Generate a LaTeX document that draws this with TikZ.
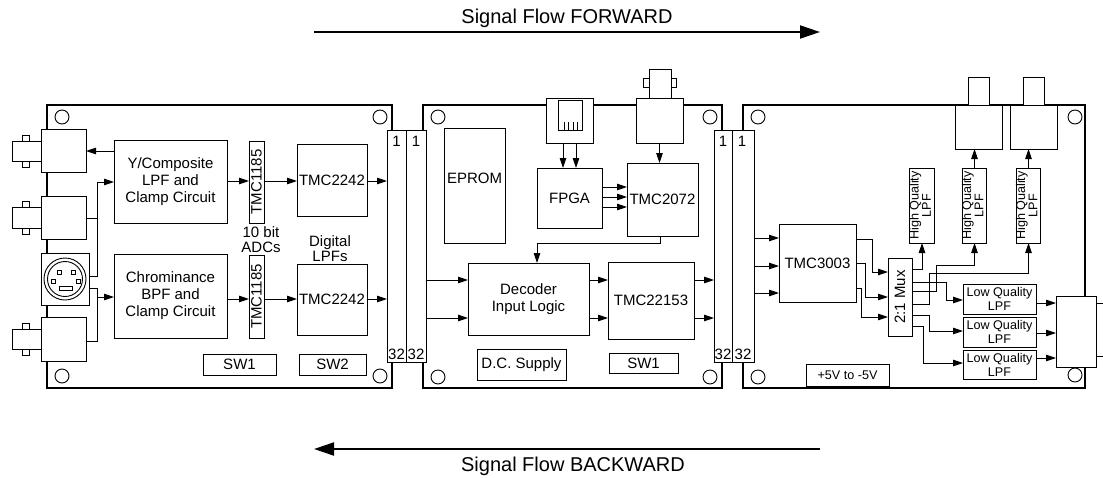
\documentclass[tikz,border=0pt]{standalone}
\usepackage{fontspec}
\setmainfont{Liberation Sans}
\usepackage{graphicx}
\usetikzlibrary{arrows.meta,calc}
\newcommand\lbl{\fontsize{15}{15}\selectfont}
\newcommand\sml{\fontsize{12.6}{13}\selectfont}
\newcommand\ttl{\fontsize{20}{22}\selectfont}
\newcommand\rot[1]{\rotatebox{90}{#1}}
\newcommand\rottwo[2]{\rotatebox{90}{\sml\renewcommand\arraystretch{0.9}\begin{tabular}{@{}c@{}}#1\\#2\end{tabular}}}
\begin{document}
\begin{tikzpicture}[x=1pt,y=-1pt,
  corners/.style args={#1/#2/#3/#4}{minimum width={(#3-#1)*1pt}, minimum height={(#4-#2)*1pt}, at={({(#1+#3)/2},{(#2+#4)/2})}},
  box/.style={draw, line width=0.9pt, fill=white, inner sep=0pt, outer sep=0pt, align=center, font=\lbl},
  sbox/.style={box, font=\sml},
  board/.style={draw, line width=2.4pt, inner sep=0pt, outer sep=0pt},
  hole/.style={draw, line width=0.9pt},
  wire/.style={line width=0.9pt},
  arr/.style={line width=0.9pt, -{Triangle[length=10pt,width=6.5pt]}},
  bigarr/.style={line width=2pt, -{Triangle[length=20pt,width=13pt]}},
  txt/.style={font=\lbl, align=center, inner sep=0pt}]
\useasboundingbox (0,0) rectangle (1103,477);

% ---------- signal flow arrows ----------
\node[font=\ttl] (fwdtxt) at (567,18) {Signal Flow FORWARD};
\coordinate (fwdA) at (314,32); \coordinate (fwdB) at (820,32);
\draw[bigarr] (fwdA) -- (fwdB);
\coordinate (bwdA) at (820,449); \coordinate (bwdB) at (314,449);
\draw[bigarr] (bwdA) -- (bwdB);
\node[font=\ttl] (bwdtxt) at (573,466) {Signal Flow BACKWARD};

% ---------- boards ----------
\node[board, corners=47/105/392/388] (b1) {};
\node[board, corners=423/105/722/388] (b2) {};
\node[board, corners=743/105/1085/388] (b3) {};
\foreach \p in {(62,117),(62,376),(380,117),(380,376),(438,117),(438,377),(710,117),(710,377),(758,117),(758,377),(1075,117),(1075,375)}
  \draw[hole] \p circle[radius=7pt];

% ---------- board 1: input connectors ----------
\node[box, corners=41/129/86/172] (c1) {};
\node[box, corners=12/141/41/161] (c1s) {};
\draw[wire] (22,135) rectangle (29,141) (22,161) rectangle (29,167);
\node[box, corners=41/196/86/239] (c2) {};
\node[box, corners=12/207/41/228] (c2s) {};
\draw[wire] (22,201) rectangle (29,207) (22,228) rectangle (29,234);
\node[box, corners=41/253/89/305] (sv) {};
\draw[wire] (65,279) circle[radius=21pt] (65,279) circle[radius=17.5pt];
\draw[wire] (57,270) rectangle (61,274) (71,270) rectangle (75,274)
            (51,279) rectangle (55,283) (76,279) rectangle (80,283)
            (59,286) rectangle (72,290);
\node[box, corners=41/317/86/361] (c4) {};
\node[box, corners=12/329/41/349] (c4s) {};
\draw[wire] (22,323) rectangle (29,329) (22,349) rectangle (29,355);

% ---------- board 1: blocks ----------
\node[box, corners=114/140/227/223] (ycomp) {Y/Composite\\[2pt]LPF and\\[2pt]Clamp Circuit};
\node[box, corners=114/254/227/338] (chroma) {Chrominance\\[2pt]BPF and\\[2pt]Clamp Circuit};
\node[box, corners=249/141/264/223] (adc1) {\rot{TMC1185}};
\node[box, corners=249/255/264/338] (adc2) {\rot{TMC1185}};
\node[txt] (adclbl) at (261,240) {10 bit\\ADCs};
\node[box, corners=297/144/367/216] (lpf1) {TMC2242};
\node[box, corners=297/264/367/335] (lpf2) {TMC2242};
\node[txt] (lpflbl) at (330,249) {Digital\\LPFs};
\node[box, corners=203/354/276/375] (sw1a) {SW1};
\node[box, corners=299/354/366/375] (sw2a) {SW2};
\node[box, corners=387/130/406/362] (s1) {};
\node[box, corners=406/130/426/362] (s2) {};
\node[txt] (s1t) at (396.5,141) {1};
\node[txt] (s2t) at (416,141) {1};
\node[txt] (s1b) at (396.5,354) {32};
\node[txt] (s2b) at (416,354) {32};

\coordinate (jA) at (97,182); \coordinate (jB) at (97,276);
\coordinate (jC) at (97,288); \coordinate (jD) at (97,341);
\draw[arr] (ycomp.west |- 0,151) -- (c1.east |- 0,151);
\draw[wire] (c2.east |- 0,218) -- (jA |- 0,218);
\draw[wire] (sv.east |- jB) -- (jB) -- (jA);
\draw[arr] (jA) -- (ycomp.west |- jA);
\draw[wire] (sv.east |- jC) -- (jC) -- (jD) -- (c4.east |- jD);
\draw[arr] (jC |- 0,297) -- (chroma.west |- 0,297);
\draw[arr] (ycomp.east |- 0,181) -- (adc1.west |- 0,181);
\draw[arr] (chroma.east |- 0,299) -- (adc2.west |- 0,299);
\draw[arr] (adc1.east |- 0,181) -- (lpf1.west |- 0,181);
\draw[arr] (adc2.east |- 0,299) -- (lpf2.west |- 0,299);
\draw[arr] (lpf1.east |- 0,181) -- (s1.west |- 0,181);
\draw[arr] (lpf2.east |- 0,299) -- (s1.west |- 0,299);

% ---------- board 2 ----------
\node[box, corners=444/128/505/243] (eprom) {};
\node[txt] (epromt) at (474.5,178) {EPROM};
\node[box, corners=546/98/593/143] (jack) {};
\draw[wire] (558,100) rectangle (582,130);
\draw[wire] (564,122) -- (564,130) (568,122) -- (568,130) (573,122) -- (573,130) (577,122) -- (577,130);
\node[box, corners=537/168/602/228] (fpga) {FPGA};
\node[box, corners=649/69/671/98] (bnctS) {};
\draw[wire] (643,78) rectangle (649,87) (671,78) rectangle (676,87);
\node[box, corners=636/98/683/143] (bnct) {};
\node[box, corners=627/163/698/236] (tmc2072) {TMC2072};
\node[box, corners=468/263/589/335] (dec) {Decoder\\[2pt]Input Logic};
\node[box, corners=608/262/694/339] (tmc22153) {TMC22153};
\node[box, corners=477/349/566/380] (dc) {D.C. Supply};
\node[box, corners=609/353/678/373] (sw1b) {SW1};
\node[box, corners=714/130/732/362] (s3) {};
\node[box, corners=732/130/754/362] (s4) {};
\node[txt] (s3t) at (723,141) {1};
\node[txt] (s4t) at (742,141) {1};
\node[txt] (s3b) at (723,354) {32};
\node[txt] (s4b) at (743,354) {32};

\draw[arr] (jack.south -| 563,0) -- (fpga.north -| 563,0);
\draw[arr] (jack.south -| 576,0) -- (fpga.north -| 576,0);
\draw[arr] (bnct.south) -- (tmc2072.north -| bnct.south);
\foreach \yy in {187,197,207}
  \draw[arr] (fpga.east |- 0,\yy) -- (tmc2072.west |- 0,\yy);
\coordinate (jE) at (660,243); \coordinate (jF) at (537,243);
\draw[arr] (tmc2072.south -| jE) -- (jE) -- (jF) -- (dec.north -| jF);
\foreach \yy in {280,318} {
  \draw[arr] (s2.east |- 0,\yy) -- (dec.west |- 0,\yy);
  \draw[arr] (dec.east |- 0,\yy) -- (tmc22153.west |- 0,\yy);
  \draw[arr] (tmc22153.east |- 0,\yy) -- (s3.west |- 0,\yy);
}

% ---------- board 3 ----------
\node[box, corners=779/224/856/302] (tmc3003) {TMC3003};
\node[box, corners=888/258/912/336] (mux) {\rot{2:1 Mux}};
\node[sbox, corners=806/364/889/386] (pwr) {+5V to -5V};
\node[sbox, corners=910/168/934/243] (hq1) {\rottwo{High Quality}{LPF}};
\node[sbox, corners=963/168/986/243] (hq2) {\rottwo{High Quality}{LPF}};
\node[sbox, corners=1017/168/1040/243] (hq3) {\rottwo{High Quality}{LPF}};
\node[sbox, corners=963/284/1036/314] (lq1) {Low Quality\\[1pt]LPF};
\node[sbox, corners=963/317/1036/347] (lq2) {Low Quality\\[1pt]LPF};
\node[sbox, corners=963/350/1036/379] (lq3) {Low Quality\\[1pt]LPF};
\node[box, corners=968/77/989/105] (o1s) {};
\node[box, corners=955/105/1002/149] (o1) {};
\node[box, corners=1023/77/1044/105] (o2s) {};
\node[box, corners=1010/105/1057/149] (o2) {};
\node[box, corners=1056/296/1096/367] (rb) {};
\coordinate (e1) at (1103,303); \coordinate (e2) at (1103,356);
\draw[wire] (rb.east |- e1) -- (e1) (rb.east |- e2) -- (e2);

\foreach \yy in {238,266,293}
  \draw[arr] (s4.east |- 0,\yy) -- (tmc3003.west |- 0,\yy);
\draw[arr] (tmc3003.east |- 0,239) -- (872,239) -- (872,272) -- (mux.west |- 0,272);
\draw[arr] (tmc3003.east |- 0,263) -- (865,263) -- (865,297) -- (mux.west |- 0,297);
\draw[arr] (tmc3003.east |- 0,288) -- (861,288) -- (861,317) -- (mux.west |- 0,317);

% mux outputs
\draw[arr] (mux.east |- 0,269) -- (hq1.south |- 0,269) -- (hq1.south);
\draw[arr] (mux.east |- 0,282) -- (946,282) -- (946,300) -- (lq1.west |- 0,300);
\draw[arr] (mux.east |- 0,291) -- (936,291) -- (936,265) -- (hq2.south |- 0,265) -- (hq2.south);
\draw[arr] (mux.east |- 0,304) -- (929,304) -- (929,273) -- (hq3.south |- 0,273) -- (hq3.south);
\draw[arr] (mux.east |- 0,315) -- (929,315) -- (929,331) -- (lq2.west |- 0,331);
\draw[arr] (mux.east |- 0,326) -- (923,326) -- (923,363) -- (lq3.west |- 0,363);

\draw[arr] (hq2.north) -- (o1.south -| hq2.north);
\draw[arr] (hq3.north) -- (o2.south -| hq3.north);
\draw[arr] (lq1.east |- 0,303) -- (rb.west |- 0,303);
\draw[arr] (lq2.east |- 0,333) -- (rb.west |- 0,333);
\draw[arr] (lq3.east |- 0,358) -- (rb.west |- 0,358);
\end{tikzpicture}
\end{document}
